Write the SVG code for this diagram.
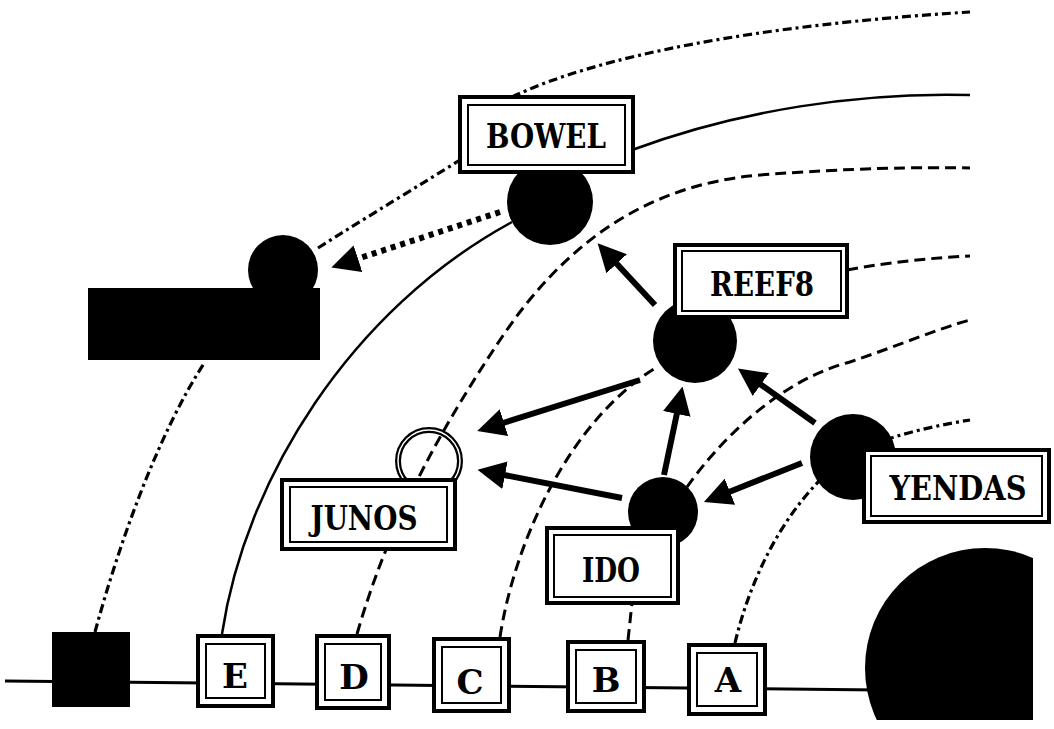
<svg xmlns="http://www.w3.org/2000/svg" width="1054" height="729" viewBox="0 0 1054 729">
<style>
.box{fill:#fff;stroke:#000;stroke-width:4}
.inner{fill:none;stroke:#000;stroke-width:2}
.lbl{font-family:"DejaVu Serif","Liberation Serif",serif;font-weight:bold;font-size:33px;text-anchor:middle;fill:#000}
.ltr{font-family:"DejaVu Serif","Liberation Serif",serif;font-weight:bold;font-size:34px;text-anchor:middle;fill:#000}
.curve{fill:none;stroke:#000;stroke-width:2.5}
.dd{stroke-width:3.2;stroke-dasharray:9 4 3 4}
.da{stroke-width:3;stroke-dasharray:11 6}
.arr{fill:none;stroke:#000;stroke-width:6;marker-end:url(#ah)}
.dot{stroke-dasharray:5 5}
.blk{fill:#000}
</style>
<defs>
<marker id="ah" markerUnits="userSpaceOnUse" markerWidth="28" markerHeight="28" viewBox="0 0 28 28" refX="1" refY="14" orient="auto"><path d="M0,0 L28,14 L0,28 z" fill="#000"/></marker>
<clipPath id="cp"><rect x="0" y="0" width="1033" height="720"/></clipPath>
</defs>
<g id="connectors">
<line x1="5" y1="681" x2="880" y2="690" stroke="#000" stroke-width="3"/>
<path class="curve dd" d="M95,632 C120,540 160,430 205,362 M318,248 C370,215 420,185 460,160 M512,97 C600,55 760,25 970,12"/>
<path class="curve" d="M222,634 C245,480 350,310 512,222 M632,150 C740,110 860,92 970,95"/>
<path class="curve da" d="M357,634 C390,520 440,430 500,340 C560,250 640,185 760,175 C850,168 920,167 970,168"/>
<path class="curve da" d="M500,637 C515,540 570,420 657,367 M847,270 C890,262 930,258 970,256"/>
<path class="curve da" d="M628,640 L632,603 M687,487 C720,440 780,380 850,362 C900,345 940,328 970,320"/>
<path class="curve dd" d="M735,643 C750,580 780,520 822,478 M885,440 C915,430 945,424 970,420"/>
<path class="arr" d="M655,305 L616,263"/>
<path class="arr" d="M640,380 L503,423"/>
<path class="arr" d="M622,498 L504,475"/>
<path class="arr" d="M664,475 L677,413"/>
<path class="arr" d="M815,423 L760,384"/>
<path class="arr" d="M802,463 L729,492"/>
<path class="arr dot" d="M500,212 L357,259"/>
</g>
<g id="topleft">
<circle class="blk" cx="283" cy="270" r="35"/>
<rect class="blk" x="88" y="288" width="232" height="72"/>
</g>
<g id="bowel">
<circle class="blk" cx="550" cy="202" r="43"/>
<rect class="box" x="460" y="97" width="173" height="75"/>
<rect class="inner" x="468" y="105" width="157" height="60"/>
<text class="lbl" x="546" y="148" textLength="120" lengthAdjust="spacingAndGlyphs">BOWEL</text>
</g>
<g id="reef8">
<circle class="blk" cx="695" cy="341" r="42"/>
<rect class="box" x="675" y="245" width="172" height="72"/>
<rect class="inner" x="682" y="251" width="159" height="60"/>
<text class="lbl" x="762" y="296" textLength="104" lengthAdjust="spacingAndGlyphs">REEF8</text>
</g>
<g id="yendas">
<circle class="blk" cx="853" cy="457" r="43"/>
<rect class="box" x="864" y="450" width="185" height="72"/>
<rect class="inner" x="871" y="456" width="171" height="60"/>
<text class="lbl" x="958" y="500" textLength="137" lengthAdjust="spacingAndGlyphs">YENDAS</text>
</g>
<g id="junos">
<circle cx="429" cy="461" r="31" fill="none" stroke="#000" stroke-width="6"/>
<circle cx="429" cy="461" r="31" fill="none" stroke="#fff" stroke-width="1.5"/>
<rect class="box" x="282" y="480" width="173" height="69"/>
<rect class="inner" x="290" y="487" width="157" height="55"/>
<text class="lbl" x="364" y="530" textLength="107" lengthAdjust="spacingAndGlyphs">JUNOS</text>
</g>
<g id="ido">
<circle class="blk" cx="663" cy="512" r="35"/>
<rect class="box" x="547" y="528" width="131" height="75"/>
<rect class="inner" x="554" y="535" width="117" height="62"/>
<text class="lbl" x="611" y="582" textLength="58" lengthAdjust="spacingAndGlyphs">IDO</text>
</g>
<g id="sq0"><rect class="blk" x="52" y="632" width="78" height="75"/></g>
<g id="boxE">
<rect class="box" x="198" y="636" width="75" height="70" stroke-width="5"/>
<rect class="inner" x="206" y="644" width="59" height="54" stroke-width="2.5"/>
<text class="ltr" x="235" y="688">E</text>
</g>
<g id="boxD">
<rect class="box" x="317" y="636" width="72" height="72" stroke-width="5"/>
<rect class="inner" x="325" y="644" width="56" height="56" stroke-width="2.5"/>
<text class="ltr" x="354" y="689">D</text>
</g>
<g id="boxC">
<rect class="box" x="434" y="639" width="75" height="72" stroke-width="5"/>
<rect class="inner" x="442" y="647" width="59" height="56" stroke-width="2.5"/>
<text class="ltr" x="470" y="694">C</text>
</g>
<g id="boxB">
<rect class="box" x="568" y="642" width="76" height="69" stroke-width="5"/>
<rect class="inner" x="576" y="650" width="60" height="53" stroke-width="2.5"/>
<text class="ltr" x="606" y="692">B</text>
</g>
<g id="boxA">
<rect class="box" x="689" y="645" width="76" height="69" stroke-width="5"/>
<rect class="inner" x="697" y="653" width="60" height="53" stroke-width="2.5"/>
<text class="ltr" x="728" y="692">A</text>
</g>
<g id="bigcircle"><circle class="blk" cx="985" cy="668" r="120" clip-path="url(#cp)"/></g>
</svg>
